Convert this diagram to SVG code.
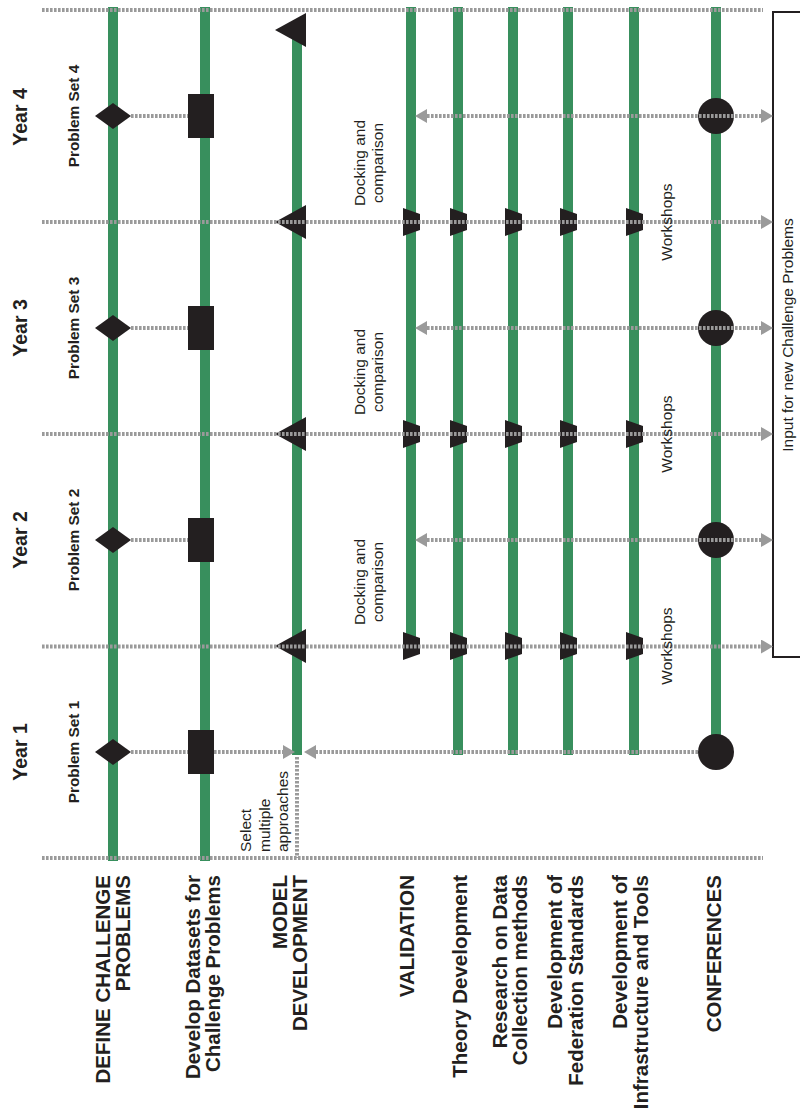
<svg xmlns="http://www.w3.org/2000/svg" width="800" height="1112" viewBox="0 0 800 1112">
  <style>
    .lane { stroke: #388F5D; stroke-width: 10; fill: none; }
    .mark { fill: #231F20; }
    .dot { stroke: #9A9A9A; stroke-width: 4; stroke-dasharray: 2.6 1.4; fill: none; }
    .bold { font-family: "Liberation Sans", Arial, sans-serif; font-weight: bold; fill: #231F20; }
    .note { font-family: "Liberation Sans", Arial, sans-serif; font-size: 15.5px; fill: #231F20; }
    .lbl { font-size: 20.5px; text-anchor: end; }
    .yr { font-size: 19.5px; text-anchor: middle; }
    .ps { font-size: 15.4px; text-anchor: middle; }
    .mid { text-anchor: middle; }
  </style>
  <defs>
    <marker id="arrow" viewBox="0 0 12 14" refX="0" refY="7" markerWidth="12" markerHeight="14" markerUnits="userSpaceOnUse" orient="auto-start-reverse">
      <path d="M0,0 L12,7 L0,14 z" fill="#9A9A9A"/>
    </marker>
    <polygon id="diamond" points="-18,0 0,-13 18,0 0,13"/>
    <rect id="block" x="-13" y="-22" width="26" height="44"/>
    <polygon id="tri" points="-22,0 9,-17 9,17"/>
    <polygon id="trap" points="-8,-14 9,-8 9,8 -8,14"/>
  </defs>
  <rect width="800" height="1112" fill="#fff"/>

  <!-- Year headings -->
  <g id="years" class="bold yr">
    <text transform="translate(27,117) rotate(-90)">Year 4</text>
    <text transform="translate(27,328) rotate(-90)">Year 3</text>
    <text transform="translate(27,540) rotate(-90)">Year 2</text>
    <text transform="translate(27,752) rotate(-90)">Year 1</text>
  </g>
  <g id="problem-sets" class="bold ps">
    <text transform="translate(79,116) rotate(-90)">Problem Set 4</text>
    <text transform="translate(79,328) rotate(-90)">Problem Set 3</text>
    <text transform="translate(79,540) rotate(-90)">Problem Set 2</text>
    <text transform="translate(79,752) rotate(-90)">Problem Set 1</text>
  </g>

  <!-- Define challenge problems -->
  <g id="define-challenge">
    <line class="lane" x1="113" y1="7" x2="113" y2="861"/>
    <g class="mark">
      <use href="#diamond" x="113" y="116"/>
      <use href="#diamond" x="113" y="328"/>
      <use href="#diamond" x="113" y="540"/>
      <use href="#diamond" x="113" y="752"/>
    </g>
    <text class="bold lbl" transform="translate(110,875) rotate(-90)">DEFINE CHALLENGE</text>
    <text class="bold lbl" transform="translate(130,875) rotate(-90)">PROBLEMS</text>
  </g>

  <!-- Datasets -->
  <g id="datasets">
    <line class="lane" x1="205" y1="7" x2="205" y2="861"/>
    <g class="mark">
      <use href="#block" x="201" y="116"/>
      <use href="#block" x="201" y="328"/>
      <use href="#block" x="201" y="540"/>
      <use href="#block" x="201" y="752"/>
    </g>
    <text class="bold lbl" transform="translate(200,875) rotate(-90)">Develop Datasets for</text>
    <text class="bold lbl" transform="translate(220,875) rotate(-90)">Challenge Problems</text>
  </g>

  <!-- Model development -->
  <g id="model-development">
    <line class="lane" x1="297" y1="30" x2="297" y2="755"/>
    <g class="mark">
      <use href="#tri" x="297" y="30"/>
      <use href="#tri" x="297" y="222"/>
      <use href="#tri" x="297" y="434"/>
      <use href="#tri" x="297" y="646"/>
    </g>
    <text class="bold lbl" transform="translate(287,875) rotate(-90)">MODEL</text>
    <text class="bold lbl" transform="translate(307,875) rotate(-90)">DEVELOPMENT</text>
    <g class="note">
      <text transform="translate(251,852) rotate(-90)">Select</text>
      <text transform="translate(269.5,852) rotate(-90)">multiple</text>
      <text transform="translate(288,852) rotate(-90)">approaches</text>
    </g>
  </g>

  <!-- Validation -->
  <g id="validation">
    <line class="lane" x1="411" y1="7" x2="411" y2="646"/>
    <g class="mark">
      <use href="#trap" x="411" y="222"/>
      <use href="#trap" x="411" y="434"/>
      <use href="#trap" x="411" y="646"/>
    </g>
    <text class="bold lbl" transform="translate(414,875) rotate(-90)">VALIDATION</text>
    <g class="note mid">
      <text transform="translate(365,163) rotate(-90)">Docking and</text>
      <text transform="translate(383,163) rotate(-90)">comparison</text>
      <text transform="translate(365,372) rotate(-90)">Docking and</text>
      <text transform="translate(383,372) rotate(-90)">comparison</text>
      <text transform="translate(365,582) rotate(-90)">Docking and</text>
      <text transform="translate(383,582) rotate(-90)">comparison</text>
    </g>
  </g>

  <!-- Theory development -->
  <g id="theory">
    <line class="lane" x1="458" y1="7" x2="458" y2="755"/>
    <g class="mark">
      <use href="#trap" x="458" y="222"/>
      <use href="#trap" x="458" y="434"/>
      <use href="#trap" x="458" y="646"/>
    </g>
    <text class="bold lbl" transform="translate(467,875) rotate(-90)">Theory Development</text>
  </g>

  <!-- Data collection research -->
  <g id="data-collection">
    <line class="lane" x1="513" y1="7" x2="513" y2="755"/>
    <g class="mark">
      <use href="#trap" x="513" y="222"/>
      <use href="#trap" x="513" y="434"/>
      <use href="#trap" x="513" y="646"/>
    </g>
    <text class="bold lbl" transform="translate(507,875) rotate(-90)">Research on Data</text>
    <text class="bold lbl" transform="translate(527,875) rotate(-90)">Collection methods</text>
  </g>

  <!-- Federation standards -->
  <g id="federation">
    <line class="lane" x1="568" y1="7" x2="568" y2="755"/>
    <g class="mark">
      <use href="#trap" x="568" y="222"/>
      <use href="#trap" x="568" y="434"/>
      <use href="#trap" x="568" y="646"/>
    </g>
    <text class="bold lbl" transform="translate(562,875) rotate(-90)">Development of</text>
    <text class="bold lbl" transform="translate(583,875) rotate(-90)">Federation Standards</text>
  </g>

  <!-- Infrastructure and tools -->
  <g id="infrastructure">
    <line class="lane" x1="634" y1="7" x2="634" y2="755"/>
    <g class="mark">
      <use href="#trap" x="634" y="222"/>
      <use href="#trap" x="634" y="434"/>
      <use href="#trap" x="634" y="646"/>
    </g>
    <text class="bold lbl" transform="translate(627,875) rotate(-90)">Development of</text>
    <text class="bold lbl" transform="translate(648,875) rotate(-90)">Infrastructure and Tools</text>
  </g>

  <!-- Conferences -->
  <g id="conferences">
    <line class="lane" x1="716" y1="7" x2="716" y2="752"/>
    <g class="mark">
      <circle cx="716" cy="116" r="18"/>
      <circle cx="716" cy="328" r="18"/>
      <circle cx="716" cy="540" r="18"/>
      <circle cx="716" cy="752" r="18"/>
    </g>
    <text class="bold lbl" transform="translate(721,875) rotate(-90)">CONFERENCES</text>
  </g>

  <!-- Feedback box -->
  <g id="challenge-input">
    <path d="M800,12 H773 V657 H800" fill="none" stroke="#231F20" stroke-width="2"/>
    <text class="note mid" transform="translate(793,335) rotate(-90)">Input for new Challenge Problems</text>
  </g>

  <!-- Connectors -->
  <g id="connectors">
    <line class="dot" x1="42" y1="10" x2="763" y2="10"/>
    <line class="dot" x1="42" y1="858" x2="763" y2="858"/>
    <line class="dot" x1="42" y1="222" x2="761" y2="222" marker-end="url(#arrow)"/>
    <line class="dot" x1="42" y1="434" x2="761" y2="434" marker-end="url(#arrow)"/>
    <line class="dot" x1="42" y1="646.5" x2="761" y2="646.5" marker-end="url(#arrow)"/>

    <line class="dot" x1="131" y1="116" x2="188" y2="116"/>
    <line class="dot" x1="131" y1="328" x2="188" y2="328"/>
    <line class="dot" x1="131" y1="540" x2="188" y2="540"/>
    <line class="dot" x1="131" y1="752" x2="188" y2="752"/>
    <line class="dot" x1="214" y1="752" x2="283" y2="752" marker-end="url(#arrow)"/>
    <line class="dot" x1="698" y1="752" x2="316" y2="752" marker-end="url(#arrow)"/>
    <line class="dot" x1="297" y1="757" x2="297" y2="858"/>

    <line class="dot" x1="427" y1="116" x2="761" y2="116" marker-start="url(#arrow)" marker-end="url(#arrow)"/>
    <line class="dot" x1="427" y1="328" x2="761" y2="328" marker-start="url(#arrow)" marker-end="url(#arrow)"/>
    <line class="dot" x1="427" y1="540" x2="761" y2="540" marker-start="url(#arrow)" marker-end="url(#arrow)"/>
  </g>

  <!-- Workshop labels -->
  <g id="workshops" class="note mid">
    <text transform="translate(672,222) rotate(-90)">Workshops</text>
    <text transform="translate(672,434) rotate(-90)">Workshops</text>
    <text transform="translate(672,646) rotate(-90)">Workshops</text>
  </g>
</svg>
